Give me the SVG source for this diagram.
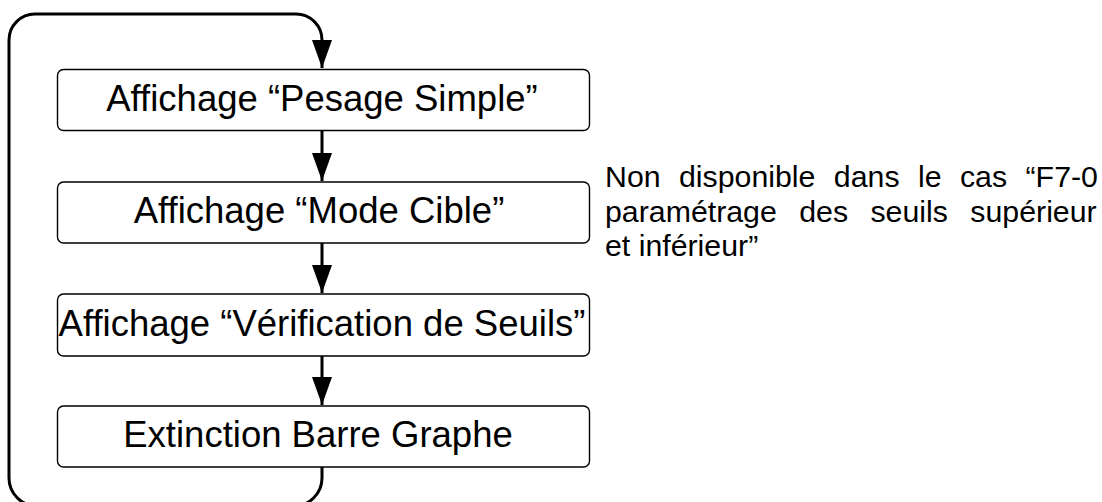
<svg xmlns="http://www.w3.org/2000/svg" width="1102" height="502" viewBox="0 0 1102 502">
<style>
.box{fill:#fff;stroke:#000;stroke-width:1.4}
.lbl{font-family:"Liberation Sans",Arial,sans-serif;font-size:36.5px;fill:#000;text-anchor:middle}
.note{font-family:"Liberation Sans",Arial,sans-serif;font-size:30.3px;fill:#000}
.edge{fill:none;stroke:#000;stroke-width:3}
</style>
<defs>
<marker id="ah" markerUnits="userSpaceOnUse" markerWidth="28" markerHeight="20" refX="28" refY="10" orient="auto" viewBox="0 0 28 20">
<path d="M0,0 L28,10 L0,20 Z" fill="#000"/>
</marker>
</defs>
<rect width="1102" height="502" fill="#fff"/>
<g id="connectors">
<path class="edge" d="M322,467 L322,478 A28,28 0 0 1 294,506 L37,506 A28,28 0 0 1 9,478 L9,40 A26,26 0 0 1 35,14 L296,14 A26,26 0 0 1 322,40 L322,68" marker-end="url(#ah)"/>
<path class="edge" d="M322,131 L322,181" marker-end="url(#ah)"/>
<path class="edge" d="M322,243 L322,293" marker-end="url(#ah)"/>
<path class="edge" d="M322,356 L322,405" marker-end="url(#ah)"/>
</g>
<g id="n1">
<rect class="box" x="57.5" y="69.5" width="532" height="61" rx="6"/>
<text class="lbl" x="322" y="111">Affichage “Pesage Simple”</text>
</g>
<g id="n2">
<rect class="box" x="57.5" y="182" width="532" height="61" rx="6"/>
<text class="lbl" x="319" y="223">Affichage “Mode Cible”</text>
</g>
<g id="n3">
<rect class="box" x="57.5" y="294" width="532" height="62" rx="6"/>
<text class="lbl" x="322" y="336">Affichage “Vérification de Seuils”</text>
</g>
<g id="n4">
<rect class="box" x="57.5" y="406" width="532" height="61" rx="6"/>
<text class="lbl" x="318" y="447">Extinction Barre Graphe</text>
</g>
<g id="note">
<text class="note" x="605" y="187" word-spacing="10">Non disponible dans le cas “F7-0</text>
<text class="note" x="605" y="222" word-spacing="14">paramétrage des seuils supérieur</text>
<text class="note" x="605" y="256">et inférieur”</text>
</g>
</svg>
